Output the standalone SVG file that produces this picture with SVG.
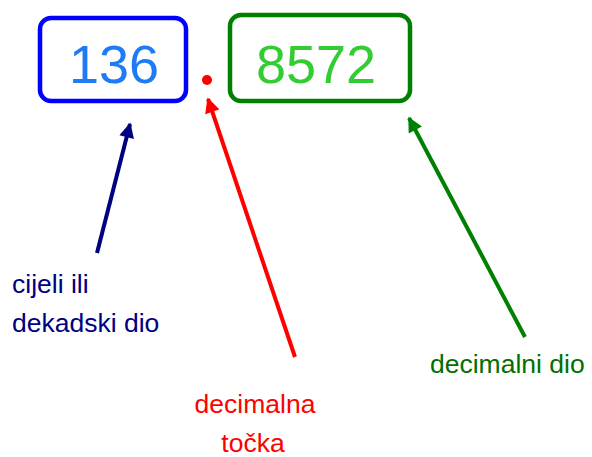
<svg xmlns="http://www.w3.org/2000/svg" width="592" height="457" viewBox="0 0 592 457">
<style>
.lbl{font-family:"Liberation Sans",Arial,sans-serif;font-size:26.5px}
.num{font-family:"Liberation Sans",Arial,sans-serif;font-size:54px}
.box{fill:#fff;stroke-width:4.5}
.conn{stroke-width:4;fill:none}
</style>
<defs>
<marker id="ab" viewBox="0 0 10 10" refX="9" refY="5" markerWidth="17" markerHeight="15" markerUnits="userSpaceOnUse" orient="auto"><path d="M0,0L10,5L0,10z" fill="#000080"/></marker>
<marker id="ar" viewBox="0 0 10 10" refX="9" refY="5" markerWidth="17" markerHeight="15" markerUnits="userSpaceOnUse" orient="auto"><path d="M0,0L10,5L0,10z" fill="#ff0000"/></marker>
<marker id="ag" viewBox="0 0 10 10" refX="9" refY="5" markerWidth="17" markerHeight="15" markerUnits="userSpaceOnUse" orient="auto"><path d="M0,0L10,5L0,10z" fill="#008000"/></marker>
</defs>
<rect width="592" height="457" fill="#fff"/>
<g id="whole">
<rect class="box" x="40" y="18" width="146" height="83" rx="11" stroke="#0000ff"/>
<text class="num" x="114" y="83" text-anchor="middle" fill="#1f7af5">136</text>
</g>
<g id="point">
<circle cx="207" cy="80" r="5" fill="#ff0000"/>
</g>
<g id="decimal">
<rect class="box" x="230" y="15" width="180" height="86" rx="11" stroke="#008000"/>
<text class="num" x="316" y="83" text-anchor="middle" fill="#33cc33">8572</text>
</g>
<g id="connectors">
<line class="conn" x1="97" y1="253" x2="130" y2="124" stroke="#000080" marker-end="url(#ab)"/>
<line class="conn" x1="295" y1="357" x2="208" y2="99" stroke="#ff0000" marker-end="url(#ar)"/>
<line class="conn" x1="525" y1="337" x2="409" y2="118" stroke="#008000" marker-end="url(#ag)"/>
</g>
<g id="label-whole">
<text class="lbl" x="12" y="293" fill="#000080">cijeli ili</text>
<text class="lbl" x="12" y="332" fill="#000080">dekadski dio</text>
</g>
<g id="label-point">
<text class="lbl" x="255" y="413" text-anchor="middle" fill="#ff0000">decimalna</text>
<text class="lbl" x="253" y="452" text-anchor="middle" fill="#ff0000">točka</text>
</g>
<g id="label-decimal">
<text class="lbl" x="430" y="373" fill="#007000">decimalni dio</text>
</g>
</svg>
